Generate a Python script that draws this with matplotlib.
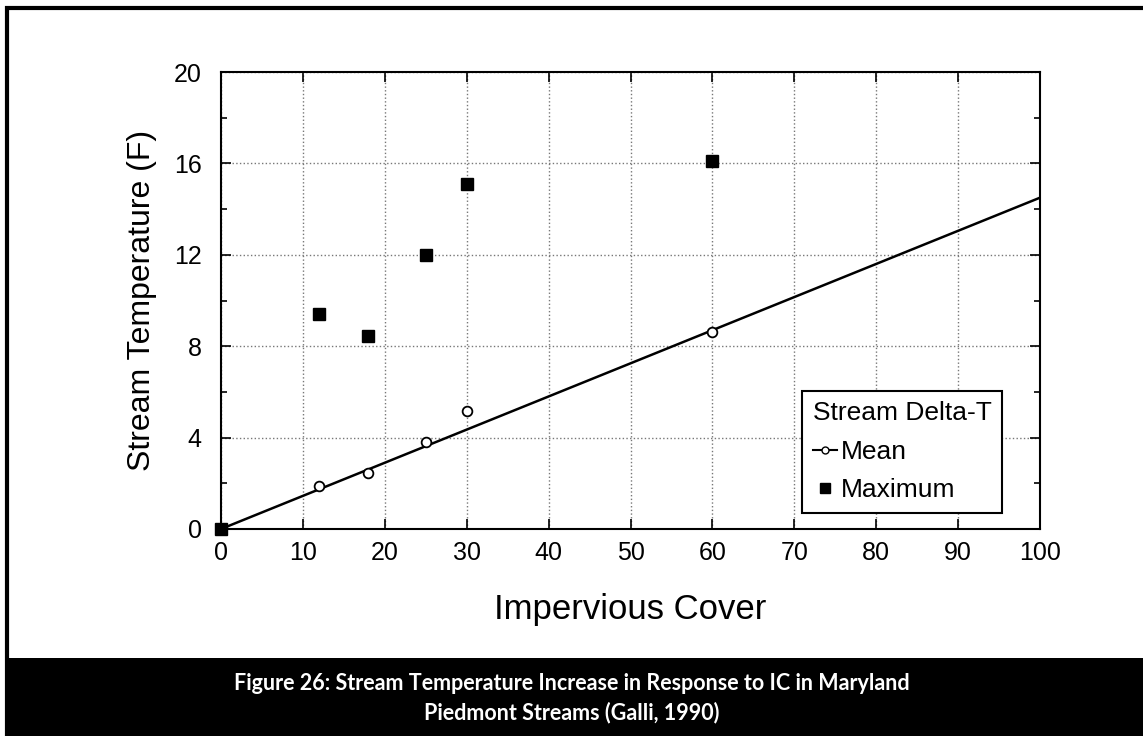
import matplotlib.pyplot as plt
from matplotlib.patches import Rectangle
from matplotlib.ticker import MultipleLocator

# data (Galli, 1990)
cover = [0, 12, 18, 25, 30, 60]
mean_dt = [0, 1.9, 2.45, 3.8, 5.15, 8.6]
max_dt = [0, 9.4, 8.45, 12.0, 15.1, 16.1]
fit_x = [0, 100]
fit_y = [0, 14.5]

x_ticks = list(range(0, 101, 10))
y_ticks = [0, 4, 8, 12, 16, 20]

caption = ('Figure 26: Stream Temperature Increase in Response to IC in Maryland\n'
           'Piedmont Streams (Galli, 1990)')

plt.rcParams['font.family'] = ['Liberation Sans', 'DejaVu Sans']

fig = plt.figure(figsize=(11.43, 7.36), dpi=100)

# outer frame and caption band
fig.patches.append(Rectangle((7 / 1143, 0), 1.2, 1 - 8 / 736, transform=fig.transFigure,
                             fill=False, edgecolor='black', linewidth=3))
fig.patches.append(Rectangle((6 / 1143, 0), 1.0, 78 / 736, transform=fig.transFigure,
                             facecolor='black', edgecolor='none'))
fig.text(0.5, 38 / 736, caption, color='white', ha='center', va='center',
         fontsize=15.5, fontweight='bold', family=['Lato', 'DejaVu Sans'], linespacing=1.4)

ax = fig.add_axes([221 / 1143, 1 - 529 / 736, 819 / 1143, 457 / 736])

ax.plot(fit_x, fit_y, color='black', linewidth=1.8, zorder=3)
ax.plot(cover, mean_dt, linestyle='none', marker='o', markersize=7,
        markerfacecolor='white', markeredgecolor='black', markeredgewidth=1.3, zorder=4)
ax.plot(cover, max_dt, linestyle='none', marker='s', markersize=9,
        color='black', zorder=5, clip_on=False)

# legend proxies
h_mean, = ax.plot([], [], color='black', linewidth=1.5, marker='o', markersize=5,
                  markerfacecolor='white', markeredgecolor='black')
h_max, = ax.plot([], [], linestyle='none', marker='s', markersize=7, color='black')
leg = ax.legend([h_mean, h_max], ['Mean', 'Maximum'], title='Stream Delta-T',
                loc='lower left', bbox_to_anchor=(0.71, 0.035), fontsize=19,
                title_fontsize=19, frameon=True, fancybox=False, edgecolor='black',
                framealpha=1, handlelength=0.9, handletextpad=0.15, borderpad=0.4,
                labelspacing=0.55, borderaxespad=0)
leg.get_frame().set_linewidth(1.5)
leg._legend_box.align = 'left'

ax.set_xlim(0, 100)
ax.set_ylim(0, 20)
ax.set_xticks(x_ticks)
ax.set_yticks(y_ticks)
ax.yaxis.set_minor_locator(MultipleLocator(2))
ax.tick_params(which='both', direction='in', top=True, right=True, labelsize=18,
               length=7, width=1.2)
ax.tick_params(axis='y', pad=14)
ax.tick_params(axis='x', pad=9)
ax.tick_params(which='minor', length=4)
ax.grid(True, which='major', linestyle=':', color='#777777', linewidth=1.0)
for s in ax.spines.values():
    s.set_linewidth(1.5)

ax.set_xlabel('Impervious Cover', fontsize=25, labelpad=20)
ax.set_ylabel('Stream Temperature (F)', fontsize=23, labelpad=12)

fig.savefig('out.png', dpi=100, facecolor='white')
